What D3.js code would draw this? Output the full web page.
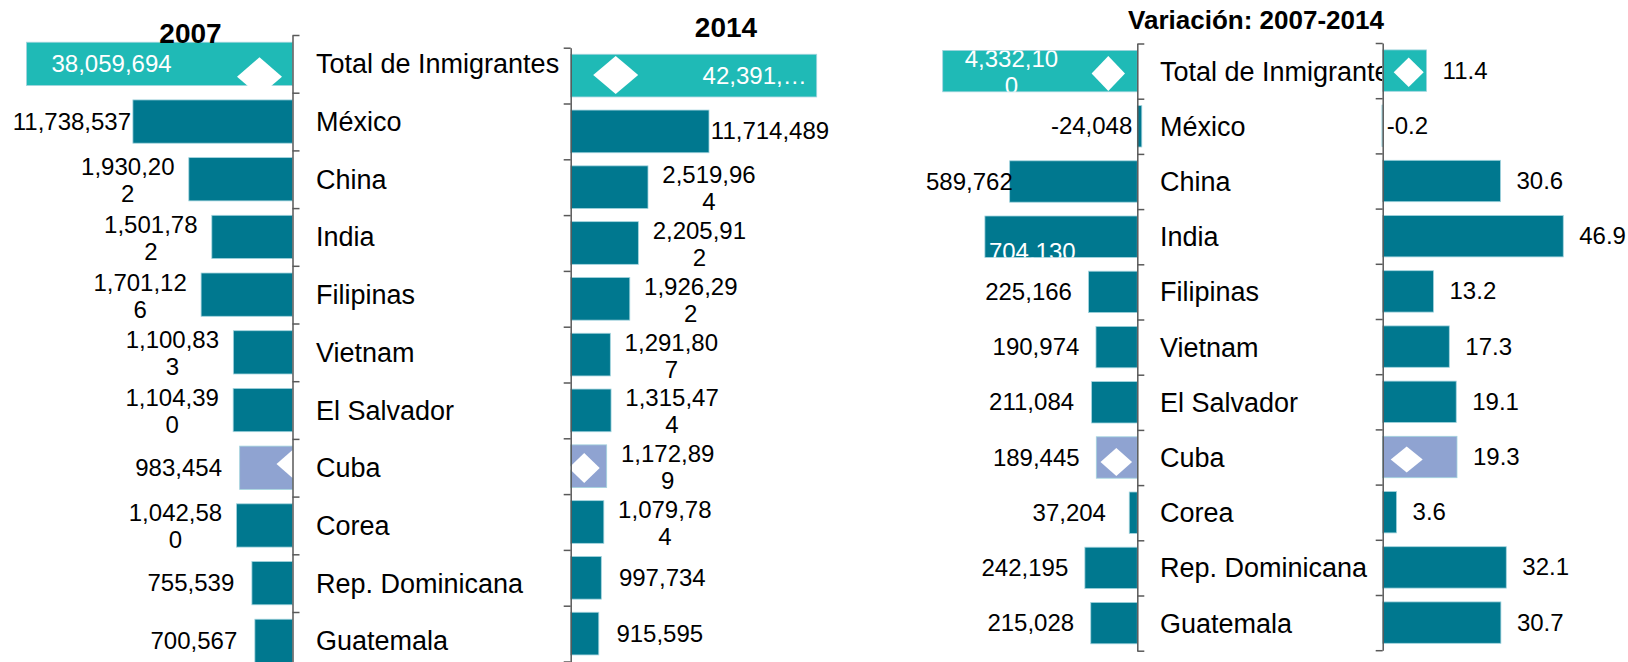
<!DOCTYPE html>
<html>
<head>
<meta charset="utf-8">
<script src="https://cdn.jsdelivr.net/npm/d3@7"></script>
<style>
  body { margin: 0; background: #fff; }
  svg { display: block; font-family: "Liberation Sans", Arial, sans-serif; }
</style>
</head>
<body>
<div id="chart"></div>
<script>
// data
var categories = ["Total de Inmigrantes", "México", "China", "India", "Filipinas", "Vietnam",
                  "El Salvador", "Cuba", "Corea", "Rep. Dominicana", "Guatemala"];
var inmigrantes2007 = [38059694, 11738537, 1930202, 1501782, 1701126, 1100833, 1104390, 983454, 1042580, 755539, 700567];
var inmigrantes2014 = [42391794, 11714489, 2519964, 2205912, 1926292, 1291807, 1315474, 1172899, 1079784, 997734, 915595];
var variacionAbs = [4332100, -24048, 589762, 704130, 225166, 190974, 211084, 189445, 37204, 242195, 215028];
var variacionPct = [11.4, -0.2, 30.6, 46.9, 13.2, 17.3, 19.1, 19.3, 3.6, 32.1, 30.7];
var titles = ["2007", "2014", "Variación: 2007-2014"];

var TOTAL = "#1fbab6", DARK = "#00788f", CUBA = "#8fa3d1";
// plain hyphen for negatives, like excel
var locale = d3.formatLocale({decimal: ".", thousands: ",", grouping: [3], currency: ["$", ""], minus: "-"});
var fmt = locale.format(",");
var fmtPct = locale.format(".1f");
var n = categories.length;
var VALSIZE = 24;

var svg = d3.select("#chart").append("svg")
  .attr("width", 1628)
  .attr("height", 662);
var defs = svg.append("defs");

function barColor(i) {
  if (i === 0) return TOTAL;
  if (categories[i] === "Cuba") return CUBA;
  return DARK;
}

// excel wraps the 9 character labels after 8 chars
function wrap9(s) {
  return s.length === 9 ? [s.slice(0, 8), s.slice(8)] : [s];
}

function drawBars(g, vals, x, y, key) {
  g.selectAll("rect.bar").data(vals).join("rect")
    .attr("class", "bar")
    .attr("id", function(d, i){ return key + "bar" + i; })
    .attr("x", function(d){ return Math.min(x(0), x(d)); })
    .attr("y", function(d, i){ return y(categories[i]); })
    .attr("width", function(d){ return Math.abs(x(d) - x(0)); })
    .attr("height", y.bandwidth())
    .attr("fill", function(d, i){ return barColor(i); })
    .attr("stroke", "#a3d4de")
    .attr("stroke-width", 0.8);
}

function clipToBar(key, i, vals, x, y) {
  var id = key + "clip" + i;
  defs.append("clipPath").attr("id", id).append("rect")
    .attr("x", Math.min(x(0), x(vals[i])))
    .attr("y", y(categories[i]))
    .attr("width", Math.abs(x(vals[i]) - x(0)))
    .attr("height", y.bandwidth());
  return "url(#" + id + ")";
}

function drawAxis(g, y, side, ax) {
  var idx = d3.scaleLinear().domain([0, n]).range(y.range());
  var axis = (side === "right" ? d3.axisRight(idx) : d3.axisLeft(idx))
    .tickValues(d3.range(n + 1))
    .tickFormat("")
    .tickSize(7)
    .tickSizeOuter(0);
  g.append("g")
    .attr("transform", "translate(" + ax + ",0)")
    .call(axis)
    .call(function(a){
      a.selectAll("line,path").attr("stroke", "#595959").attr("stroke-width", 1.5);
      a.selectAll("text").remove();
    });
}

// white diamonds on the total and cuba bars: [category, dx from axis, dy, half w, half h]
function drawMarkers(g, y, ax, dir, specs) {
  specs.forEach(function(s){
    g.append("path")
      .attr("d", "M0," + (-s[4]) + "L" + s[3] + ",0L0," + s[4] + "L" + (-s[3]) + ",0Z")
      .attr("transform", "translate(" + (ax + dir * s[1]) + "," + (y(s[0]) + y.bandwidth() / 2 + s[2]) + ")")
      .attr("fill", "#fff");
  });
}

function label(g, lines, cx, cy, color, anchor) {
  var t = g.append("text")
    .attr("text-anchor", anchor || "middle")
    .attr("fill", color || "#000")
    .attr("font-size", VALSIZE);
  lines.forEach(function(l, i){
    t.append("tspan")
      .attr("x", cx)
      .attr("y", cy + (lines.length === 1 ? 8 : (i === 0 ? -4 : 23)))
      .text(l);
  });
  return t;
}

function catLabels(g, y, x) {
  g.selectAll("text.cat").data(categories).join("text")
    .attr("class", "cat")
    .attr("x", x)
    .attr("y", function(d){ return y(d) + y.bandwidth() / 2; })
    .attr("dy", "0.35em")
    .attr("font-size", 27)
    .attr("fill", "#000")
    .text(function(d){ return d; });
}

// PANEL ONE - 2007

var ax1 = 292.5;
var y1 = d3.scaleBand().domain(categories).range([35, 35 + 57.7 * n]).paddingInner(0.25).paddingOuter(0.125);
var x1 = d3.scaleLinear()
  .domain([0, d3.max(inmigrantes2007.slice(2)), inmigrantes2007[1], inmigrantes2007[0]])
  .range([ax1, ax1 - 103.7, ax1 - 159.6, ax1 - 266]);

var g1 = svg.append("g");
drawBars(g1, inmigrantes2007, x1, y1, "p1");
drawMarkers(g1, y1, ax1, -1, [["Total de Inmigrantes", 33, 12.8, 22.5, 19.4], ["Cuba", 0, -3.8, 16, 14]]);
drawAxis(g1, y1, "right", ax1);
catLabels(g1, y1, 316);
inmigrantes2007.forEach(function(v, i){
  var cy = y1(categories[i]) + y1.bandwidth() / 2;
  if (i === 0) {
    label(g1, [fmt(v)], x1(v) + 25, cy, "#fff", "start");
  } else {
    label(g1, wrap9(fmt(v)), x1(v) - 61, cy);
  }
});

// PANEL TWO - 2014

var ax2 = 570.7;
var y2 = d3.scaleBand().domain(categories).range([47.7, 47.7 + 55.8 * n]).paddingInner(0.235).paddingOuter(0.1175);
var x2 = d3.scaleLinear()
  .domain([0, d3.max(inmigrantes2014.slice(2)), inmigrantes2014[1], inmigrantes2014[0]])
  .range([ax2, ax2 + 77.3, ax2 + 138.3, ax2 + 246]);

var g2 = svg.append("g");
drawBars(g2, inmigrantes2014, x2, y2, "p2");
drawMarkers(g2, y2, ax2, 1, [["Total de Inmigrantes", 45, -0.6, 22.5, 19], ["Cuba", 13.5, 1.8, 15.5, 15]]);
drawAxis(g2, y2, "left", ax2);
inmigrantes2014.forEach(function(v, i){
  var cy = y2(categories[i]) + y2.bandwidth() / 2;
  if (i === 0) {
    label(g2, [fmt(v).slice(0, 7) + "…"], x2(v) - 10, cy, "#fff", "end");
  } else {
    label(g2, wrap9(fmt(v)), x2(v) + 61, cy);
  }
});

// PANEL THREE - variacion absoluta

var ax3 = 1137.3;
var y3 = d3.scaleBand().domain(categories).range([43.5, 43.5 + 55.2 * n]).paddingInner(0.25).paddingOuter(0.125);
var x3 = d3.scaleLinear()
  .domain([d3.min(variacionAbs), 0, d3.max(variacionAbs.slice(1)), variacionAbs[0]])
  .range([ax3 + 4.5, ax3, ax3 - 152.4, ax3 - 194.6]);
var left3 = 926;

var g3 = svg.append("g");
drawBars(g3, variacionAbs, x3, y3, "p3");
drawMarkers(g3, y3, ax3, -1, [["Total de Inmigrantes", 29, 2.5, 16.7, 17.5], ["Cuba", 21, 4.5, 15.8, 14]]);
drawAxis(g3, y3, "right", ax3);

defs.append("clipPath").attr("id", "catclip3").append("rect")
  .attr("x", ax3).attr("y", 0).attr("width", 1382.7 - ax3).attr("height", 662);
catLabels(g3.append("g").attr("clip-path", "url(#catclip3)"), y3, 1160);

variacionAbs.forEach(function(v, i){
  var cy = y3(categories[i]) + y3.bandwidth() / 2;
  var s = fmt(v);
  if (i === 0) {
    var t = label(g3, wrap9(s), 0, cy, "#fff").attr("clip-path", clipToBar("p3", i, variacionAbs, x3, y3));
    var w = t.select("tspan").node().getComputedTextLength();
    t.selectAll("tspan").attr("x", x3(v) + w / 2 + 22);
  } else if (v < 0) {
    label(g3, [s], x3(0) - 5, cy, "#000", "end");
  } else {
    var t2 = label(g3, [s], 0, cy);
    var w2 = t2.node().getComputedTextLength();
    var cx = x3(v) - 60;
    if (cx - w2 / 2 < left3) cx = left3 + w2 / 2;
    if (cx + w2 / 2 > x3(v) + 10) {
      // no room on the left: excel puts it inside the bar, low and cut
      t2.remove();
      g3.append("text")
        .attr("x", x3(v) + 4)
        .attr("y", cy + 23)
        .attr("font-size", VALSIZE)
        .attr("fill", "#fff")
        .attr("clip-path", clipToBar("p3", i, variacionAbs, x3, y3))
        .text(s);
    } else {
      t2.selectAll("tspan").attr("x", cx);
    }
  }
});

// PANEL FOUR - variacion %

var ax4 = 1382.7;
var y4 = d3.scaleBand().domain(categories).range([43, 43 + 55.2 * n]).paddingInner(0.25).paddingOuter(0.125);
var x4 = d3.scaleLinear().domain([0, 50]).range([ax4, ax4 + 192.5]);

var g4 = svg.append("g");
drawBars(g4, variacionPct, x4, y4, "p4");
drawMarkers(g4, y4, ax4, 1, [["Total de Inmigrantes", 26, 1.7, 15, 14.7], ["Cuba", 24, 2.5, 16, 13]]);
drawAxis(g4, y4, "left", ax4);
variacionPct.forEach(function(v, i){
  var cy = y4(categories[i]) + y4.bandwidth() / 2;
  var x = v < 0 ? x4(0) + 4 : x4(v) + 16;
  label(g4, [fmtPct(v)], x, cy, "#000", "start");
});

// TITLES

svg.append("text")
  .attr("x", 190.5).attr("y", 43)
  .attr("text-anchor", "middle")
  .attr("font-size", 28).attr("font-weight", "bold")
  .text(titles[0]);

svg.append("text")
  .attr("x", 726).attr("y", 36.7)
  .attr("text-anchor", "middle")
  .attr("font-size", 28).attr("font-weight", "bold")
  .text(titles[1]);

svg.append("text")
  .attr("x", 1256).attr("y", 29)
  .attr("text-anchor", "middle")
  .attr("font-size", 26).attr("font-weight", "bold")
  .text(titles[2]);
</script>
</body>
</html>
